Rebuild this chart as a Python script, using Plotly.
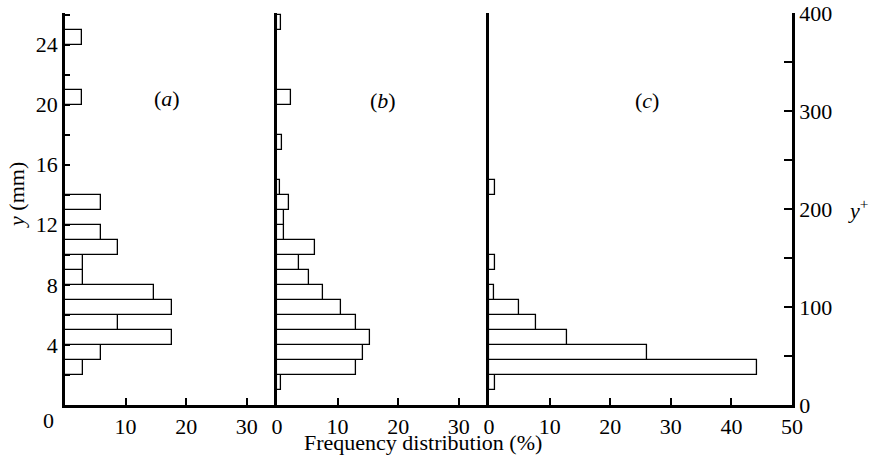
import plotly.graph_objects as go

# ---- data (bin lower edge in mm, frequency in %) ----
bins_a = [2, 3, 4, 5, 6, 7, 8, 9, 10, 11, 13, 20, 24]
freq_a = [2.9, 5.9, 17.6, 8.8, 17.6, 14.7, 2.9, 2.9, 8.8, 5.9, 5.9, 2.8, 2.8]

bins_b = [1, 2, 3, 4, 5, 6, 7, 8, 9, 10, 11, 12, 13, 14, 17, 20, 25]
freq_b = [0.7, 13.1, 14.2, 15.4, 13.1, 10.5, 7.6, 5.2, 3.6, 6.3, 1.15, 1.1, 1.9, 0.5, 0.8, 2.3, 0.6]

bins_c = [1, 2, 3, 4, 5, 6, 7, 9, 14]
freq_c = [0.96, 44.3, 26.1, 12.9, 7.8, 5.0, 0.86, 0.96, 0.96]

bin_width = 1.0
x_ticks_ab = [0, 10, 20, 30]
x_ticks_c = [0, 10, 20, 30, 40, 50]
y_ticks = [2, 4, 6, 8, 10, 12, 14, 16, 18, 20, 22, 24, 26]
y_labels = ["", "4", "", "8", "", "12", "", "16", "", "20", "", "24", ""]
yplus_ticks = [0, 50, 100, 150, 200, 250, 300, 350, 400]
yplus_labels = ["0", "", "100", "", "200", "", "300", "", "400"]
panel_names = ["(<i>a</i>)", "(<i>b</i>)", "(<i>c</i>)"]

FONT = "Liberation Serif"
FS = 22
LW = 2.6

fig = go.Figure()

def add_panel(bins, freq, xa):
    fig.add_trace(go.Bar(
        y=[b + bin_width / 2 for b in bins], x=freq, orientation="h",
        width=bin_width, base=0,
        marker=dict(color="white", line=dict(color="black", width=1.3)),
        xaxis=xa, yaxis="y", showlegend=False, hoverinfo="x+y",
    ))

add_panel(bins_a, freq_a, "x")
add_panel(bins_b, freq_b, "x2")
add_panel(bins_c, freq_c, "x3")

tick_font = dict(family=FONT, size=FS, color="black")
common_x = dict(showline=True, linecolor="black", linewidth=LW, ticks="inside",
                ticklen=7, tickwidth=2, tickcolor="black", showgrid=False,
                zeroline=False, tickfont=tick_font, anchor="y", automargin=False)
fig.update_layout(
    xaxis=dict(domain=[0, 35 / 120], range=[0, 35],
               tickvals=x_ticks_ab[1:], ticktext=[str(v) for v in x_ticks_ab[1:]], **common_x),
    xaxis2=dict(domain=[35 / 120, 70 / 120], range=[0, 35],
                tickvals=x_ticks_ab, ticktext=[str(v) for v in x_ticks_ab], **common_x),
    xaxis3=dict(domain=[70 / 120, 1], range=[0, 50],
                tickvals=x_ticks_c, ticktext=[str(v) for v in x_ticks_c], **common_x),
    yaxis=dict(range=[0, 26.1], anchor="x", showline=True, linecolor="black",
               linewidth=LW, ticks="inside", ticklen=5, tickwidth=2, tickcolor="black",
               tickvals=y_ticks, ticktext=y_labels, showgrid=False, zeroline=False,
               tickfont=tick_font, automargin=False),
    yaxis2=dict(range=[0, 26.1], anchor="x2", overlaying="y", side="left",
                showline=True, linecolor="black", linewidth=LW, ticks="",
                showticklabels=False, showgrid=False, zeroline=False, automargin=False),
    yaxis3=dict(range=[0, 26.1], anchor="x3", overlaying="y", side="left",
                showline=True, linecolor="black", linewidth=LW, ticks="",
                showticklabels=False, showgrid=False, zeroline=False, automargin=False),
    yaxis4=dict(range=[0, 400], anchor="x3", overlaying="y", side="right",
                showline=True, linecolor="black", linewidth=LW, ticks="inside",
                ticklen=8, tickwidth=2, tickcolor="black",
                tickvals=yplus_ticks, ticktext=yplus_labels, showgrid=False,
                zeroline=False, tickfont=tick_font, automargin=False),
    width=871, height=461,
    margin=dict(l=65, r=79, t=13, b=56),
    plot_bgcolor="white", paper_bgcolor="white",
    bargap=0,
)

for xa, ya in [("x2", "y2"), ("x3", "y3"), ("x3", "y4")]:
    fig.add_trace(go.Scatter(x=[None], y=[None], xaxis=xa, yaxis=ya,
                             showlegend=False, hoverinfo="skip"))

ann_font = dict(family=FONT, size=22, color="black")
mid = dict(xanchor="center", yanchor="middle", showarrow=False, font=ann_font)
fig.add_annotation(text=panel_names[0], x=16.9, y=20.4, xref="x", yref="y", **mid)
fig.add_annotation(text=panel_names[1], x=17.5, y=20.3, xref="x2", yref="y", **mid)
fig.add_annotation(text=panel_names[2], x=26.0, y=20.3, xref="x3", yref="y", **mid)
fig.add_annotation(text="0", x=0, y=0, xref="x", yref="y", xanchor="right",
                   yanchor="top", xshift=-9, yshift=-1, showarrow=False,
                   font=tick_font)
fig.add_annotation(text="<i>y</i> (mm)", x=-0.066, y=0.536, xref="paper", yref="paper",
                   textangle=-90, **mid)
fig.add_annotation(text="<i>y</i><sup>+</sup>", x=1.091, y=0.50, xref="paper", yref="paper",
                   **mid)
fig.add_annotation(text="Frequency distribution (%)", x=0.4925, y=-0.095,
                   xref="paper", yref="paper", **mid)

fig.write_html("out.html", config={"displayModeBar": False},
               post_script="document.body.style.margin='0px';document.body.style.overflow='hidden';")
